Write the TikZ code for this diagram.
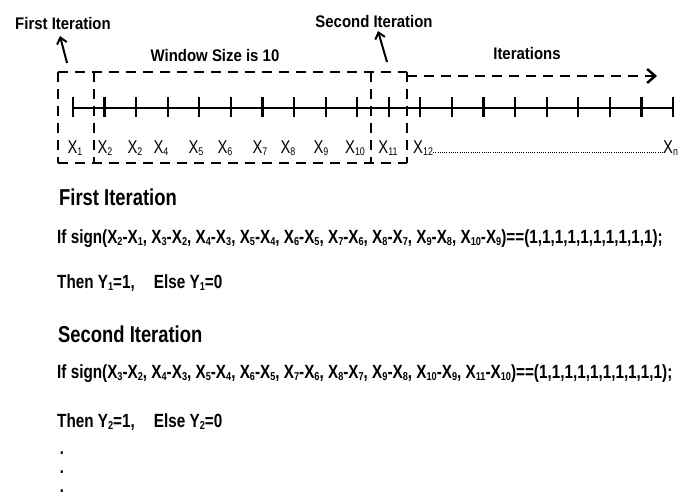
\documentclass[tikz,border=0pt]{standalone}
\usepackage{fontspec}
\usepackage{graphicx}
\usetikzlibrary{arrows.meta}
\newfontfamily\af[FakeStretch=0.89]{Liberation Sans}
\newfontfamily\cf[FakeStretch=0.8]{Liberation Sans}
\newcommand\sbs[1]{\raisebox{-2.2pt}{\scalebox{0.6}{#1}}}
\begin{document}
\begin{tikzpicture}[x=1pt,y=-1pt,
  toplabel/.style={font=\af\bfseries\fontsize{16.8}{20}\selectfont, inner sep=0, anchor=base},
  heading/.style={font=\cf\bfseries\fontsize{23}{27}\selectfont, anchor=base west, inner sep=0},
  formula/.style={font=\cf\bfseries\fontsize{19.1}{22}\selectfont, anchor=base west, inner sep=0},
  xlab/.style={font=\cf\fontsize{18.5}{22}\selectfont, anchor=base, inner sep=0},
  win/.style={line width=2.5pt, dash pattern=on 10pt off 7pt},
  axisline/.style={line width=2.5pt},
  tickmark/.style={line width=2.2pt},
  pointer/.style={line width=2pt, -{Straight Barb[length=6pt,width=10pt]}},
  dotline/.style={line width=1pt, dash pattern=on 1pt off 1.2pt},
  dotmark/.style={font=\cf\bfseries\fontsize{18.4}{22}\selectfont, anchor=base, inner sep=0}]
\useasboundingbox (0,0) rectangle (692,498);
% top labels
\node[toplabel] (fi) at (63,29) {First Iteration};
\node[toplabel] (si) at (374,27) {Second Iteration};
\node[toplabel] (ws) at (215,61) {Window Size is 10};
\node[toplabel] (it) at (527,59) {Iterations};
% windows
\draw[win] (58,72) -- (407,72);
\draw[win] (58,163) -- (407,163);
\draw[win] (58,72) -- (58,163);
\draw[win] (94,72) -- (94,163);
\draw[win] (371,72) -- (371,163);
\draw[win] (407,72) -- (407,163);
% iterations arrow
\coordinate (itstart) at (407,76);
\coordinate (itend) at (657,76);
\draw[win, -{Straight Barb[length=8pt,width=14pt,line width=2.5pt]}] (itstart) -- (itend);
% pointers
\coordinate (p1t) at (67,63);
\coordinate (p1h) at (60,36);
\coordinate (p2t) at (387,62);
\coordinate (p2h) at (378,31);
\draw[pointer] (p1t) -- (p1h);
\draw[pointer] (p2t) -- (p2h);
% axis
\draw[axisline] (73,108) -- (673,108);
\foreach \i in {0,...,19} \draw[tickmark] ({73+31.58*\i},97) -- ({73+31.58*\i},117);
% labels
\node[xlab] (x1) at (75,153) {X\sbs{1}};
\node[xlab] (x2) at (105,153) {X\sbs{2}};
\node[xlab] (x3) at (135,153) {X\sbs{2}};
\node[xlab] (x4) at (161,153) {X\sbs{4}};
\node[xlab] (x5) at (196,153) {X\sbs{5}};
\node[xlab] (x6) at (225,153) {X\sbs{6}};
\node[xlab] (x7) at (260,153) {X\sbs{7}};
\node[xlab] (x8) at (288,153) {X\sbs{8}};
\node[xlab] (x9) at (321,153) {X\sbs{9}};
\node[xlab] (x10) at (355,153) {X\sbs{10}};
\node[xlab] (x11) at (388,153) {X\sbs{11}};
\node[xlab, anchor=base west] (x12) at (413,153) {X\sbs{12}};
\node[xlab, anchor=base west] (xn) at (663,153) {X\sbs{n}};
\draw[dotline] ([yshift=1pt]x12.base east) -- ([yshift=1pt]xn.base west);
% lower text
\node[heading] (h1) at (59,205) {First Iteration};
\node[formula] (f1) at (57,243) {If sign(X\sbs{2}-X\sbs{1}, X\sbs{3}-X\sbs{2}, X\sbs{4}-X\sbs{3}, X\sbs{5}-X\sbs{4}, X\sbs{6}-X\sbs{5}, X\sbs{7}-X\sbs{6}, X\sbs{8}-X\sbs{7}, X\sbs{9}-X\sbs{8}, X\sbs{10}-X\sbs{9})==(1,1,1,1,1,1,1,1,1,1);};
\node[formula] (t1) at (57,288) {Then Y\sbs{1}=1,\hspace{19pt}Else Y\sbs{1}=0};
\node[heading] (h2) at (58,342) {Second Iteration};
\node[formula] (f2) at (57,378) {If sign(X\sbs{3}-X\sbs{2}, X\sbs{4}-X\sbs{3}, X\sbs{5}-X\sbs{4}, X\sbs{6}-X\sbs{5}, X\sbs{7}-X\sbs{6}, X\sbs{8}-X\sbs{7}, X\sbs{9}-X\sbs{8}, X\sbs{10}-X\sbs{9}, X\sbs{11}-X\sbs{10})==(1,1,1,1,1,1,1,1,1,1);};
\node[formula] (t2) at (57,427) {Then Y\sbs{2}=1,\hspace{19pt}Else Y\sbs{2}=0};
\node[dotmark] (d1) at (62,454) {.};
\node[dotmark] (d2) at (62,473) {.};
\node[dotmark] (d3) at (62,492) {.};
\end{tikzpicture}
\end{document}
